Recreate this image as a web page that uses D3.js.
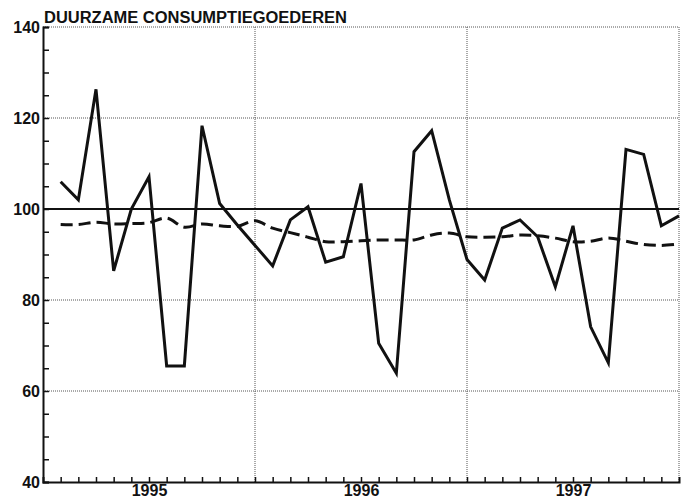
<!DOCTYPE html>
<meta charset="utf-8">
<html>
<script src="https://d3js.org/d3.v7.min.js"></script>
<style>
  body { margin: 0; background: #fff; }
  text { font-family: "Liberation Sans", Arial, sans-serif; font-weight: bold; fill: #111; }
</style>
<div id="chart"></div>
<script>

// monthly values, jan 1995 .. dec 1997
var years = ["1995", "1996", "1997"];
var actual = [106.0, 102.0, 126.3, 86.4, 100.0, 107.1, 65.5, 65.5, 118.3, 101.2, 96.5, 92.0,
              87.5, 97.6, 100.5, 88.3, 89.5, 105.6, 70.5, 63.9, 112.6, 117.2, 102.0, 88.9,
              84.4, 95.8, 97.6, 93.9, 82.9, 96.3, 74.1, 66.2, 113.1, 112.0, 96.3, 98.5];
var trend = [96.6, 96.6, 97.1, 96.7, 96.8, 97.0, 98.0, 96.0, 96.7, 96.3, 96.2, 97.4,
             95.8, 94.8, 93.8, 92.8, 92.8, 93.0, 93.2, 93.2, 93.2, 94.3, 94.7, 93.9,
             93.8, 93.9, 94.3, 94.1, 93.6, 92.8, 92.9, 93.6, 92.9, 92.2, 92.0, 92.3];
var yLabels = [40, 60, 80, 100, 120, 140];
var title = "DUURZAME CONSUMPTIEGOEDEREN";

var width = 692,
    height = 502,
    pLeft = 43, pRight = 679, pTop = 27, pBottom = 482;

var svg = d3.select("#chart").append("svg")
    .attr("width", width)
    .attr("height", height);

var x = d3.scaleLinear().domain([0, 36]).range([pLeft, pRight]);
var y = d3.scaleLinear().domain([40, 140]).range([pBottom, pTop]);

// dotted grid
var grid = svg.append("g").attr("stroke", "#555").attr("stroke-width", 1).attr("stroke-dasharray", "1,1");
grid.selectAll("line.h")
    .data([60, 80, 120, 140])
    .enter().append("line")
    .attr("x1", pLeft).attr("x2", pRight)
    .attr("y1", function(d) { return y(d); }).attr("y2", function(d) { return y(d); });
grid.selectAll("line.v")
    .data([12, 24, 36])
    .enter().append("line")
    .attr("y1", pTop).attr("y2", pBottom)
    .attr("x1", function(d) { return x(d); }).attr("x2", function(d) { return x(d); });

// 100 reference line
svg.append("line")
    .attr("x1", pLeft).attr("x2", pRight)
    .attr("y1", y(100)).attr("y2", y(100))
    .attr("stroke", "#111").attr("stroke-width", 2);

// y axis, minor ticks every 5 pointing inward
var yAxis = svg.append("g")
    .attr("transform", "translate(" + pLeft + ",0)")
    .call(d3.axisLeft(y).tickValues(d3.range(40, 141, 5)).tickSize(-6).tickPadding(3)
      .tickFormat(function(d) { return yLabels.indexOf(d) >= 0 ? d : ""; }));
yAxis.select(".domain").attr("stroke", "#111").attr("stroke-width", 2);
yAxis.selectAll(".tick line").attr("stroke", "#111").attr("stroke-width", 1.5);
yAxis.selectAll("text").style("font-size", "16px").attr("fill", "#111");

// x axis, monthly ticks pointing up
var xAxis = svg.append("g")
    .attr("transform", "translate(0," + pBottom + ")")
    .call(d3.axisBottom(x).tickValues(d3.range(1, 36)).tickSize(-5).tickFormat(""));
xAxis.select(".domain").attr("stroke", "#111").attr("stroke-width", 2);
xAxis.selectAll(".tick line").attr("stroke", "#111").attr("stroke-width", 1.5);

var yearAxis = svg.append("g")
    .attr("transform", "translate(0," + pBottom + ")")
    .call(d3.axisBottom(x).tickValues([6, 18, 30]).tickSize(0).tickPadding(3)
      .tickFormat(function(d, i) { return years[i]; }));
yearAxis.select(".domain").remove();
yearAxis.selectAll("text").style("font-size", "16px").attr("fill", "#111");

// trend (dashed)
var trendLine = d3.line()
    .x(function(d, i) { return x(i + 1); })
    .y(function(d) { return y(d); })
    .curve(d3.curveCatmullRom);
svg.append("path")
    .datum(trend)
    .attr("d", trendLine)
    .attr("fill", "none")
    .attr("stroke", "#111")
    .attr("stroke-width", 3)
    .attr("stroke-dasharray", "12,6");

// actual (solid)
var actualLine = d3.line()
    .x(function(d, i) { return x(i + 1); })
    .y(function(d) { return y(d); });
svg.append("path")
    .datum(actual)
    .attr("d", actualLine)
    .attr("fill", "none")
    .attr("stroke", "#111")
    .attr("stroke-width", 3)
    .attr("stroke-linejoin", "miter");

svg.append("text")
    .attr("x", pLeft + 1)
    .attr("y", 23)
    .attr("textLength", 303)
    .attr("lengthAdjust", "spacingAndGlyphs")
    .style("font-size", "16px")
    .text(title);

</script>
</html>
